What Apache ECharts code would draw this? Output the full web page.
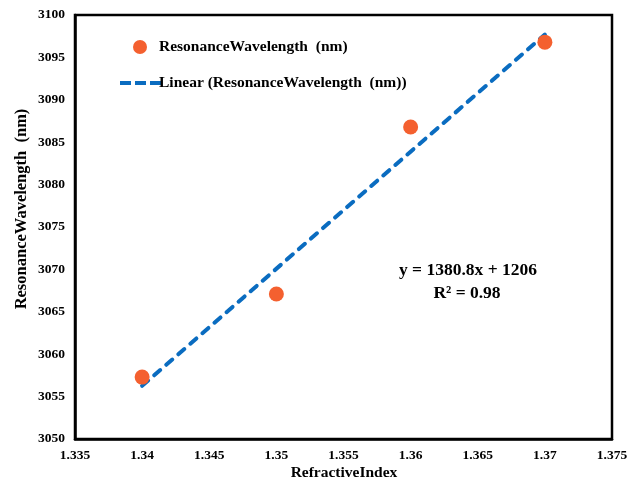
<!DOCTYPE html>
<html>
<head>
<meta charset="utf-8">
<script src="https://cdn.jsdelivr.net/npm/echarts@6/dist/echarts.min.js"></script>
<style>
  html, body { margin: 0; padding: 0; background: #fff; }
  #chart { width: 635px; height: 483px; }
</style>
</head>
<body>
<div id="chart"></div>
<script>
// Measured resonance wavelength versus refractive index
const refractiveIndex = [1.34, 1.35, 1.36, 1.37];
const wavelength = [3057.3, 3067.1, 3086.8, 3096.8];

// Linear fit: y = slope * x + intercept
const slope = 1380.8;
const intercept = 1206;
const rSquared = 0.98;

const seriesName = 'ResonanceWavelength  (nm)';
const fitName = 'Linear (ResonanceWavelength  (nm))';
const yTitle = 'ResonanceWavelength  (nm)';
const xTitle = 'RefractiveIndex';

const FONT = '"Liberation Serif", "Times New Roman", serif';
const ORANGE = '#F4602F';
const BLUE = '#0A6CC0';

const points = refractiveIndex.map((x, i) => [x, wavelength[i]]);
const xFirst = refractiveIndex[0];
const xLast = refractiveIndex[refractiveIndex.length - 1];
const fitLine = [xFirst, xLast].map(x => [x, slope * x + intercept]);

// three short dashes for the trend line legend key
const dashIcon = 'path://M0,0h11v4h-11zM15,0h11v4h-11zM30,0h11v4h-11z';

const legendText = { fontFamily: FONT, fontWeight: 'bold', fontSize: 15.5, color: '#000' };

const chart = echarts.init(document.getElementById('chart'));
chart.setOption({
  animation: false,
  backgroundColor: '#fff',
  grid: {
    left: 75, top: 15, right: 23, bottom: 44,
    show: true, borderColor: '#000', borderWidth: 2.5
  },
  legend: [
    {
      data: [{ name: seriesName, icon: 'circle' }],
      left: 128, top: 34,
      itemWidth: 14, itemHeight: 14,
      textStyle: Object.assign({ padding: [0, 0, 0, 7] }, legendText)
    },
    {
      data: [{ name: fitName, icon: dashIcon }],
      left: 115, top: 70,
      itemWidth: 41, itemHeight: 4,
      itemGap: 0,
      textStyle: Object.assign({ padding: [0, 0, 0, -7] }, legendText)
    }
  ],
  xAxis: {
    type: 'value',
    min: 1.335, max: 1.375, interval: 0.005,
    axisLine: { show: true, lineStyle: { color: '#000', width: 2.5 } },
    axisTick: { show: false },
    splitLine: { show: false },
    axisLabel: {
      fontFamily: FONT, fontWeight: 'bold', fontSize: 13.5, color: '#000', margin: 10,
      formatter: v => String(parseFloat(v.toFixed(3)))
    }
  },
  yAxis: {
    type: 'value',
    min: 3050, max: 3100, interval: 5,
    axisLine: { show: true, lineStyle: { color: '#000', width: 2.5 } },
    axisTick: { show: false },
    splitLine: { show: false },
    axisLabel: {
      fontFamily: FONT, fontWeight: 'bold', fontSize: 13.5, color: '#000', margin: 10,
      formatter: v => String(Math.round(v))
    }
  },
  series: [
    {
      name: fitName,
      type: 'line',
      data: fitLine,
      symbol: 'none',
      z: 2,
      lineStyle: { color: BLUE, width: 4, type: [8, 8], cap: 'round' },
      itemStyle: { color: BLUE }
    },
    {
      name: seriesName,
      type: 'scatter',
      data: points,
      symbolSize: 15,
      z: 3,
      itemStyle: { color: ORANGE, opacity: 1 }
    }
  ],
  graphic: [
    {
      type: 'text', x: 344, y: 473,
      style: {
        text: xTitle, fontFamily: FONT, fontWeight: 'bold', fontSize: 15.5, fill: '#000',
        align: 'center', verticalAlign: 'middle'
      }
    },
    {
      type: 'text', x: 22, y: 209, rotation: Math.PI / 2,
      style: {
        text: yTitle, fontFamily: FONT, fontWeight: 'bold', fontSize: 16.5, fill: '#000',
        align: 'center', verticalAlign: 'middle'
      }
    },
    {
      type: 'text', x: 468, y: 270,
      style: {
        text: 'y = ' + slope + 'x + ' + intercept, fontFamily: FONT, fontWeight: 'bold',
        fontSize: 17.5, fill: '#000', align: 'center', verticalAlign: 'middle'
      }
    },
    {
      type: 'text', x: 467, y: 293,
      style: {
        text: 'R² = ' + rSquared, fontFamily: FONT, fontWeight: 'bold',
        fontSize: 17.5, fill: '#000', align: 'center', verticalAlign: 'middle'
      }
    }
  ]
});
</script>
</body>
</html>
